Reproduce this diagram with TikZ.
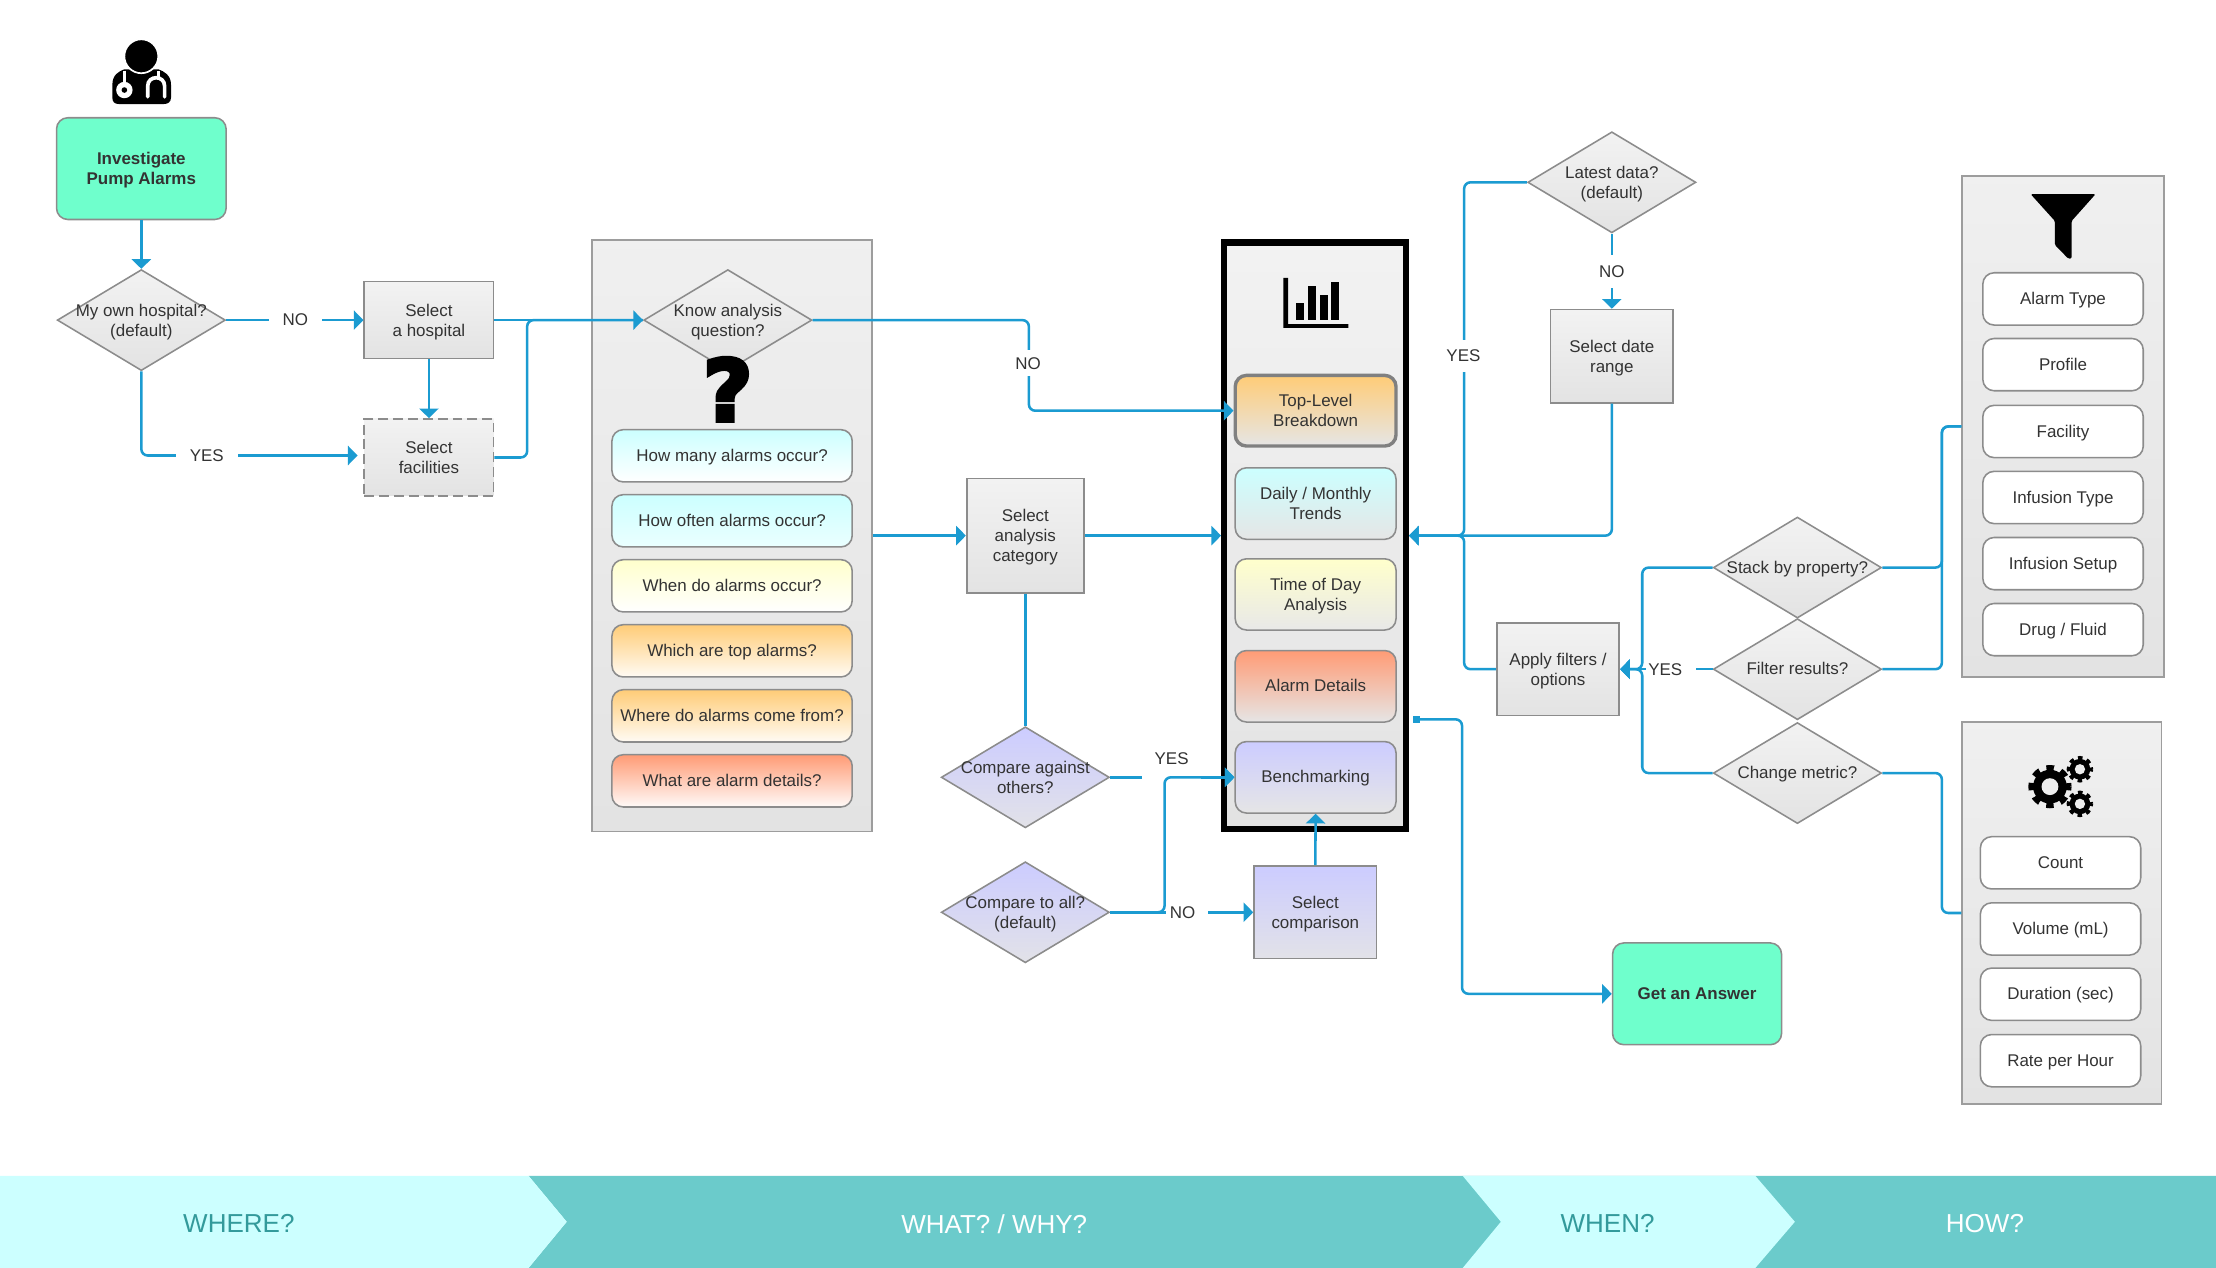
\documentclass[tikz,border=0pt]{standalone}
\usepackage{fontspec}
\setmainfont{Liberation Sans}
\newfontfamily\iconfont[FakeBold=5]{DejaVu Sans Bold}
\usetikzlibrary{arrows.meta,shapes.geometric}

\definecolor{linkblue}{HTML}{1B9BD1}
\definecolor{edgegray}{HTML}{8C8C8C}
\definecolor{inkgray}{HTML}{333333}
\definecolor{goalgreen}{HTML}{6FFFCC}
\definecolor{bandlight}{HTML}{CCFFFF}
\definecolor{bandteal}{HTML}{6BCBCB}
\definecolor{bandink}{HTML}{339A9B}
\definecolor{purplepale}{HTML}{CCCCFF}
\definecolor{purplegray}{HTML}{E2E2E8}
\definecolor{peach}{HTML}{FFCC77}
\definecolor{salmon}{HTML}{FF9B75}
\definecolor{cream}{HTML}{FFFFCC}

\newcommand{\labelsize}{\fontsize{12}{14}\selectfont}
\newcommand{\bandsize}{\fontsize{18.4}{20}\selectfont}
\newcommand{\linestrut}{\rule[-3pt]{0pt}{14pt}}
% gear: x, y, outer radius, colour of the hole
\newcommand{\gearicon}[4]{
\pgfmathsetmacro{\geardash}{0.3416*#3}
\fill[black] (#1,#2) circle [radius=0.78*#3];
\draw[black,line width=0.26*#3,dash pattern=on \geardash pt off \geardash pt,dash phase=0.5*\geardash pt] (#1,#2) circle [radius=0.87*#3];
\fill[#4] (#1,#2) circle [radius=0.39*#3];
}

\tikzset{
 link/.style={draw=linkblue,line width=1.8pt,rounded corners=4.5pt,-{Triangle[length=6.8pt,width=13.5pt]}},
 wire/.style={draw=linkblue,line width=1.8pt,rounded corners=4.5pt},
 boxtext/.style={font=\labelsize,text=inkgray,align=center,inner sep=0pt,execute at begin node=\linestrut,execute at end node=\linestrut},
 multi/.style={execute at begin node={},execute at end node={},text depth=0pt},
 stepbox/.style={boxtext,multi,rectangle,draw=edgegray,line width=1.2pt,top color=black!5,bottom color=black!11},
 bluebox/.style={stepbox,top color=purplepale,bottom color=purplegray},
 panel/.style={rectangle,draw=edgegray!85,line width=1.2pt,top color=black!6,bottom color=black!11},
 decide/.style={diamond,draw=edgegray,line width=1.1pt,inner sep=0pt,minimum width=119pt,minimum height=71.5pt,top color=black!5,bottom color=black!11},
 inside/.style={boxtext,fill=none,draw=none},
 pill/.style 2 args={boxtext,rectangle,rounded corners=8pt,draw=edgegray,line width=1.1pt,minimum width=#1,top color=#2},
 goal/.style={boxtext,font=\labelsize\bfseries,rectangle,rounded corners=8pt,draw=edgegray,line width=1.1pt,fill=goalgreen},
 edgelabel/.style={font=\labelsize,text=inkgray,fill=white,inner sep=0pt,align=center},
 bandlabel/.style={font=\bandsize,inner sep=0pt}
}

\begin{document}
\begin{tikzpicture}[x=1pt,y=-1pt]
\useasboundingbox (0,0) rectangle (1568,897.2);

% chevrons along the bottom
\fill[bandteal] (374,832) -- (1568,832) -- (1568,897.2) -- (374,897.2) -- (401,864.5) -- cycle;
\fill[bandlight] (0,832) -- (374,832) -- (401,864.5) -- (374,897.2) -- (0,897.2) -- cycle;
\fill[bandlight] (1035,832) -- (1242,832) -- (1270,864.5) -- (1242,897.2) -- (1035,897.2) -- (1062,864.5) -- cycle;
\node[bandlabel,text=bandink] (bandWhere) at (169,866) {WHERE?};
\node[bandlabel,text=white] (bandWhat) at (703.5,866) {WHAT? / WHY?};
\node[bandlabel,text=bandink] (bandWhen) at (1137.5,866) {WHEN?};
\node[bandlabel,text=white] (bandHow) at (1404.5,866) {HOW?};

% the big panels
\node[panel,minimum width=197.8pt,minimum height=418.6pt] (panelQuestion) at (517.9,379) {};
\node[rectangle,draw=black,line width=4.5pt,top color=black!5,bottom color=black!11,minimum width=128.5pt,minimum height=414.8pt] (panelChart) at (930.5,379) {};
\node[panel,minimum width=142.5pt,minimum height=354.5pt] (panelFilter) at (1459.75,301.75) {};
\node[panel,minimum width=141pt,minimum height=270pt] (panelMetric) at (1459,646) {};

% doctor
\fill[black] (79.5,60) .. controls (79.5,53) and (84,50.5) .. (88,49) -- (112,49) .. controls (116,50.5) and (121,53) .. (121,60) -- (121,69) .. controls (121,72) and (119,73.6) .. (116,73.6) -- (84,73.6) .. controls (81,73.6) and (79.5,72) .. (79.5,69) -- cycle;
\filldraw[fill=black,draw=white,line width=1.2pt] (100,39.8) circle [radius=12pt];
\draw[white,line width=2.2pt] (88,50) -- (88,60);
\fill[white] (88,63.7) circle [radius=5.8pt];
\fill[black] (88,63.7) circle [radius=2pt];
\draw[white,line width=2.6pt,line cap=round] (104.5,68.5) -- (104.5,61) .. controls (104.5,53) and (116.5,53) .. (116.5,61) -- (116.5,68.5);
\draw[white,line width=2.2pt] (112,50) -- (112,55);

% bar chart
\fill[black] (908,196.7) -- (911.5,196.7) -- (911.5,229.3) -- (954,229.3) -- (954,232) -- (908,232) -- cycle;
\fill[black] (917,214.4) rectangle (922.6,226.4);
\fill[black] (925.6,202.7) rectangle (931,226.4);
\fill[black] (934,208.5) rectangle (939.6,226.4);
\fill[black] (942,199.8) rectangle (947.5,226.4);

% funnel
\fill[black,rounded corners=1pt] (1436.8,137.3) -- (1482.8,137.3) -- (1465.8,156.4) -- (1465.8,183) -- (1463.5,183) -- (1454,173.4) -- (1454,156.4) -- cycle;

% gears
\gearicon{1450.5}{556.6}{15.3}{black!7}
\gearicon{1471.7}{544.3}{9.4}{black!7}
\gearicon{1471.7}{568.8}{9.4}{black!7}

% where
\node[goal,multi,minimum width=120pt,minimum height=72pt] (start) at (100,119.3) {Investigate\\Pump Alarms};
\node[decide,label={[inside,multi]center:My own hospital?\\(default)}] (own) at (100,226.5) {};
\node[stepbox,minimum width=91.5pt,minimum height=54.5pt] (hospital) at (303.5,226.5) {Select\\a hospital};
\node[stepbox,dash pattern=on 7pt off 3.5pt,minimum width=91.5pt,minimum height=54.5pt] (facilities) at (303.5,323.7) {Select\\facilities};
\coordinate (yesEnd) at (253,322.3);
\coordinate (mergeA) at (373,226.5);

% what, why
\node[decide,label={[inside,multi]center:Know analysis\\question?}] (know) at (515,226.5) {};
\node[font=\iconfont\fontsize{60}{60}\selectfont,text=black,inner sep=0pt] (bigMark) at (515,275.5) {?};
\node[pill={170pt}{bandlight},bottom color=white,minimum height=37pt] (itemMany) at (518,322.5) {How many alarms occur?};
\node[pill={170pt}{bandlight},bottom color=bandlight!40,minimum height=37pt] (itemOften) at (518,368.5) {How often alarms occur?};
\node[pill={170pt}{cream},bottom color=white,minimum height=37pt] (itemWhen) at (518,414.5) {When do alarms occur?};
\node[pill={170pt}{peach},bottom color=peach!8,minimum height=37pt] (itemTop) at (518,460.5) {Which are top alarms?};
\node[pill={170pt}{peach},bottom color=peach!8,minimum height=37pt] (itemFrom) at (518,506.5) {Where do alarms come from?};
\node[pill={170pt}{salmon},bottom color=salmon!5,minimum height=37pt] (itemDetail) at (518,552.5) {What are alarm details?};

\node[stepbox,minimum width=83pt,minimum height=81pt] (category) at (725.5,379) {Select\\analysis\\category};
\node[decide,top color=purplepale,bottom color=purplegray,label={[inside,multi]center:Compare against\\others?}] (against) at (725.5,550) {};
\node[decide,top color=purplepale,bottom color=purplegray,label={[inside,multi]center:Compare to all?\\(default)}] (toall) at (725.5,645.5) {};
\node[bluebox,minimum width=86.7pt,minimum height=65.6pt] (comparison) at (930.7,645.5) {Select\\comparison};

\node[pill={113.8pt}{peach},multi,bottom color=black!10,draw=black!50,line width=2.4pt,minimum height=50pt] (topLevel) at (930.9,290.6) {Top-Level\\Breakdown};
\node[pill={113.8pt}{bandlight},multi,bottom color=black!10,minimum height=50.6pt] (trends) at (930.9,356.3) {Daily / Monthly\\Trends};
\node[pill={113.8pt}{cream},multi,bottom color=black!9,minimum height=50.4pt] (timeDay) at (930.9,420.6) {Time of Day\\Analysis};
\node[pill={113.8pt}{salmon},bottom color=black!10,minimum height=50.6pt] (details) at (930.9,485.6) {Alarm Details};
\node[pill={113.8pt}{purplepale},bottom color=black!10,minimum height=50.6pt] (bench) at (930.9,550) {Benchmarking};

% when
\node[decide,label={[inside,multi]center:Latest data?\\(default)}] (latest) at (1140.5,129) {};
\node[stepbox,minimum width=87pt,minimum height=66pt] (dateRange) at (1140.5,252) {Select date\\range};
\node[stepbox,minimum width=86.8pt,minimum height=65.4pt] (apply) at (1102.4,473.5) {Apply filters /\\options};
\coordinate (joinR) at (1036,379);
\coordinate (answerStart) at (1000,509);
\coordinate (answerBend) at (1034.5,703.2);
\node[goal,minimum width=119.6pt,minimum height=72pt] (answer) at (1200.8,703.2) {Get an Answer};

% how
\node[decide,label={[inside]center:Stack by property?}] (stack) at (1271.8,401.6) {};
\node[decide,label={[inside]center:Filter results?}] (filter) at (1271.8,473.5) {};
\node[decide,label={[inside]center:Change metric?}] (change) at (1271.8,547) {};
\coordinate (joinF) at (1162,473.5);
\coordinate (busF) at (1374,301.75);
\coordinate (busM) at (1374,646);

\node[pill={113.5pt}{white},bottom color=white,minimum height=37pt] (optAlarm) at (1459.75,211.5) {Alarm Type};
\node[pill={113.5pt}{white},bottom color=white,minimum height=37pt] (optProfile) at (1459.75,258) {Profile};
\node[pill={113.5pt}{white},bottom color=white,minimum height=37pt] (optFacility) at (1459.75,305.3) {Facility};
\node[pill={113.5pt}{white},bottom color=white,minimum height=37pt] (optInfType) at (1459.75,352) {Infusion Type};
\node[pill={113.5pt}{white},bottom color=white,minimum height=37pt] (optInfSetup) at (1459.75,398.8) {Infusion Setup};
\node[pill={113.5pt}{white},bottom color=white,minimum height=37pt] (optDrug) at (1459.75,445.5) {Drug / Fluid};

\node[pill={113.5pt}{white},bottom color=white,minimum height=37pt] (metCount) at (1458,610.5) {Count};
\node[pill={113.5pt}{white},bottom color=white,minimum height=37pt] (metVolume) at (1458,657.3) {Volume (mL)};
\node[pill={113.5pt}{white},bottom color=white,minimum height=37pt] (metDuration) at (1458,703.5) {Duration (sec)};
\node[pill={113.5pt}{white},bottom color=white,minimum height=37pt] (metRate) at (1458,750.5) {Rate per Hour};

% connectors
\draw[link] (start.south) -- (own.north);
\draw[link] (own.east) -- (hospital.west);
\draw[link] (hospital.south) -- (facilities.north);
\draw[link] (own.south) |- (yesEnd);
\draw[link] (hospital.east) -- (know.west);
\draw[wire] (facilities.east) -| (mergeA) -- (know.west);
\draw[link] (know.east) -| (728,290.6) -- (topLevel.west);
\draw[link] (panelQuestion.east) -- (category.west);
\draw[link] (category.east) -- (panelChart.west);
\draw[wire] (category.south) -- (against.north);
\draw[link] (against.east) -- (bench.west);
\draw[link] (toall.east) -- (comparison.west);
\draw[link] (comparison.north) -- (bench.south);
\draw[link] (latest.south) -- (dateRange.north);
\draw[link] (dateRange.south) |- (panelChart.east);
\draw[link] (latest.west) -| (joinR) -- (panelChart.east);
\draw[link] (apply.west) -| (joinR) -- (panelChart.east);
\draw[link] (stack.west) -| (joinF) -- (apply.east);
\draw[link] (filter.west) -- (apply.east);
\draw[link] (change.west) -| (joinF) -- (apply.east);
\draw[wire] (stack.east) -| (busF) -- (panelFilter.west);
\draw[wire] (filter.east) -| (busF) -- (panelFilter.west);
\draw[wire] (change.east) -| (busM) -- (panelMetric.west);
\draw[link,{Square[length=5pt,width=5pt]}-{Triangle[length=6.8pt,width=13.5pt]}] (answerStart) -| (answerBend) -- (answer.west);

% labels sit on top of their lines
\node[edgelabel,minimum width=37.3pt,minimum height=16pt] (noHospital) at (209,226.5) {NO};
\node[edgelabel,minimum width=43.5pt,minimum height=16pt] (yesFacilities) at (146.3,322.3) {YES};
\node[edgelabel,minimum width=24pt,minimum height=18pt] (noKnow) at (727.5,257) {NO};
\node[edgelabel,minimum width=24pt,minimum height=23pt] (noLatest) at (1140.5,192) {NO};
\node[edgelabel,minimum width=30pt,minimum height=22.4pt] (yesLatest) at (1035.5,251.8) {YES};
\node[edgelabel,inner xsep=1.3pt,text width=32.4pt,align=left,minimum height=16pt] (yesFilter) at (1182.5,473.5) {YES};
\node[edgelabel,inner xsep=2.7pt,text width=24.6pt,align=left,minimum height=16pt] (noCompare) at (840,645.5) {NO};
\node[edgelabel,minimum width=42pt,minimum height=30pt] (yesAgainst) at (829,537) {YES};

% the line from the all-or-some question goes over the label box
\coordinate (kneeBench) at (824,550);
\draw[link] (toall.east) -| (kneeBench) -- (bench.west);
\end{tikzpicture}
\end{document}
